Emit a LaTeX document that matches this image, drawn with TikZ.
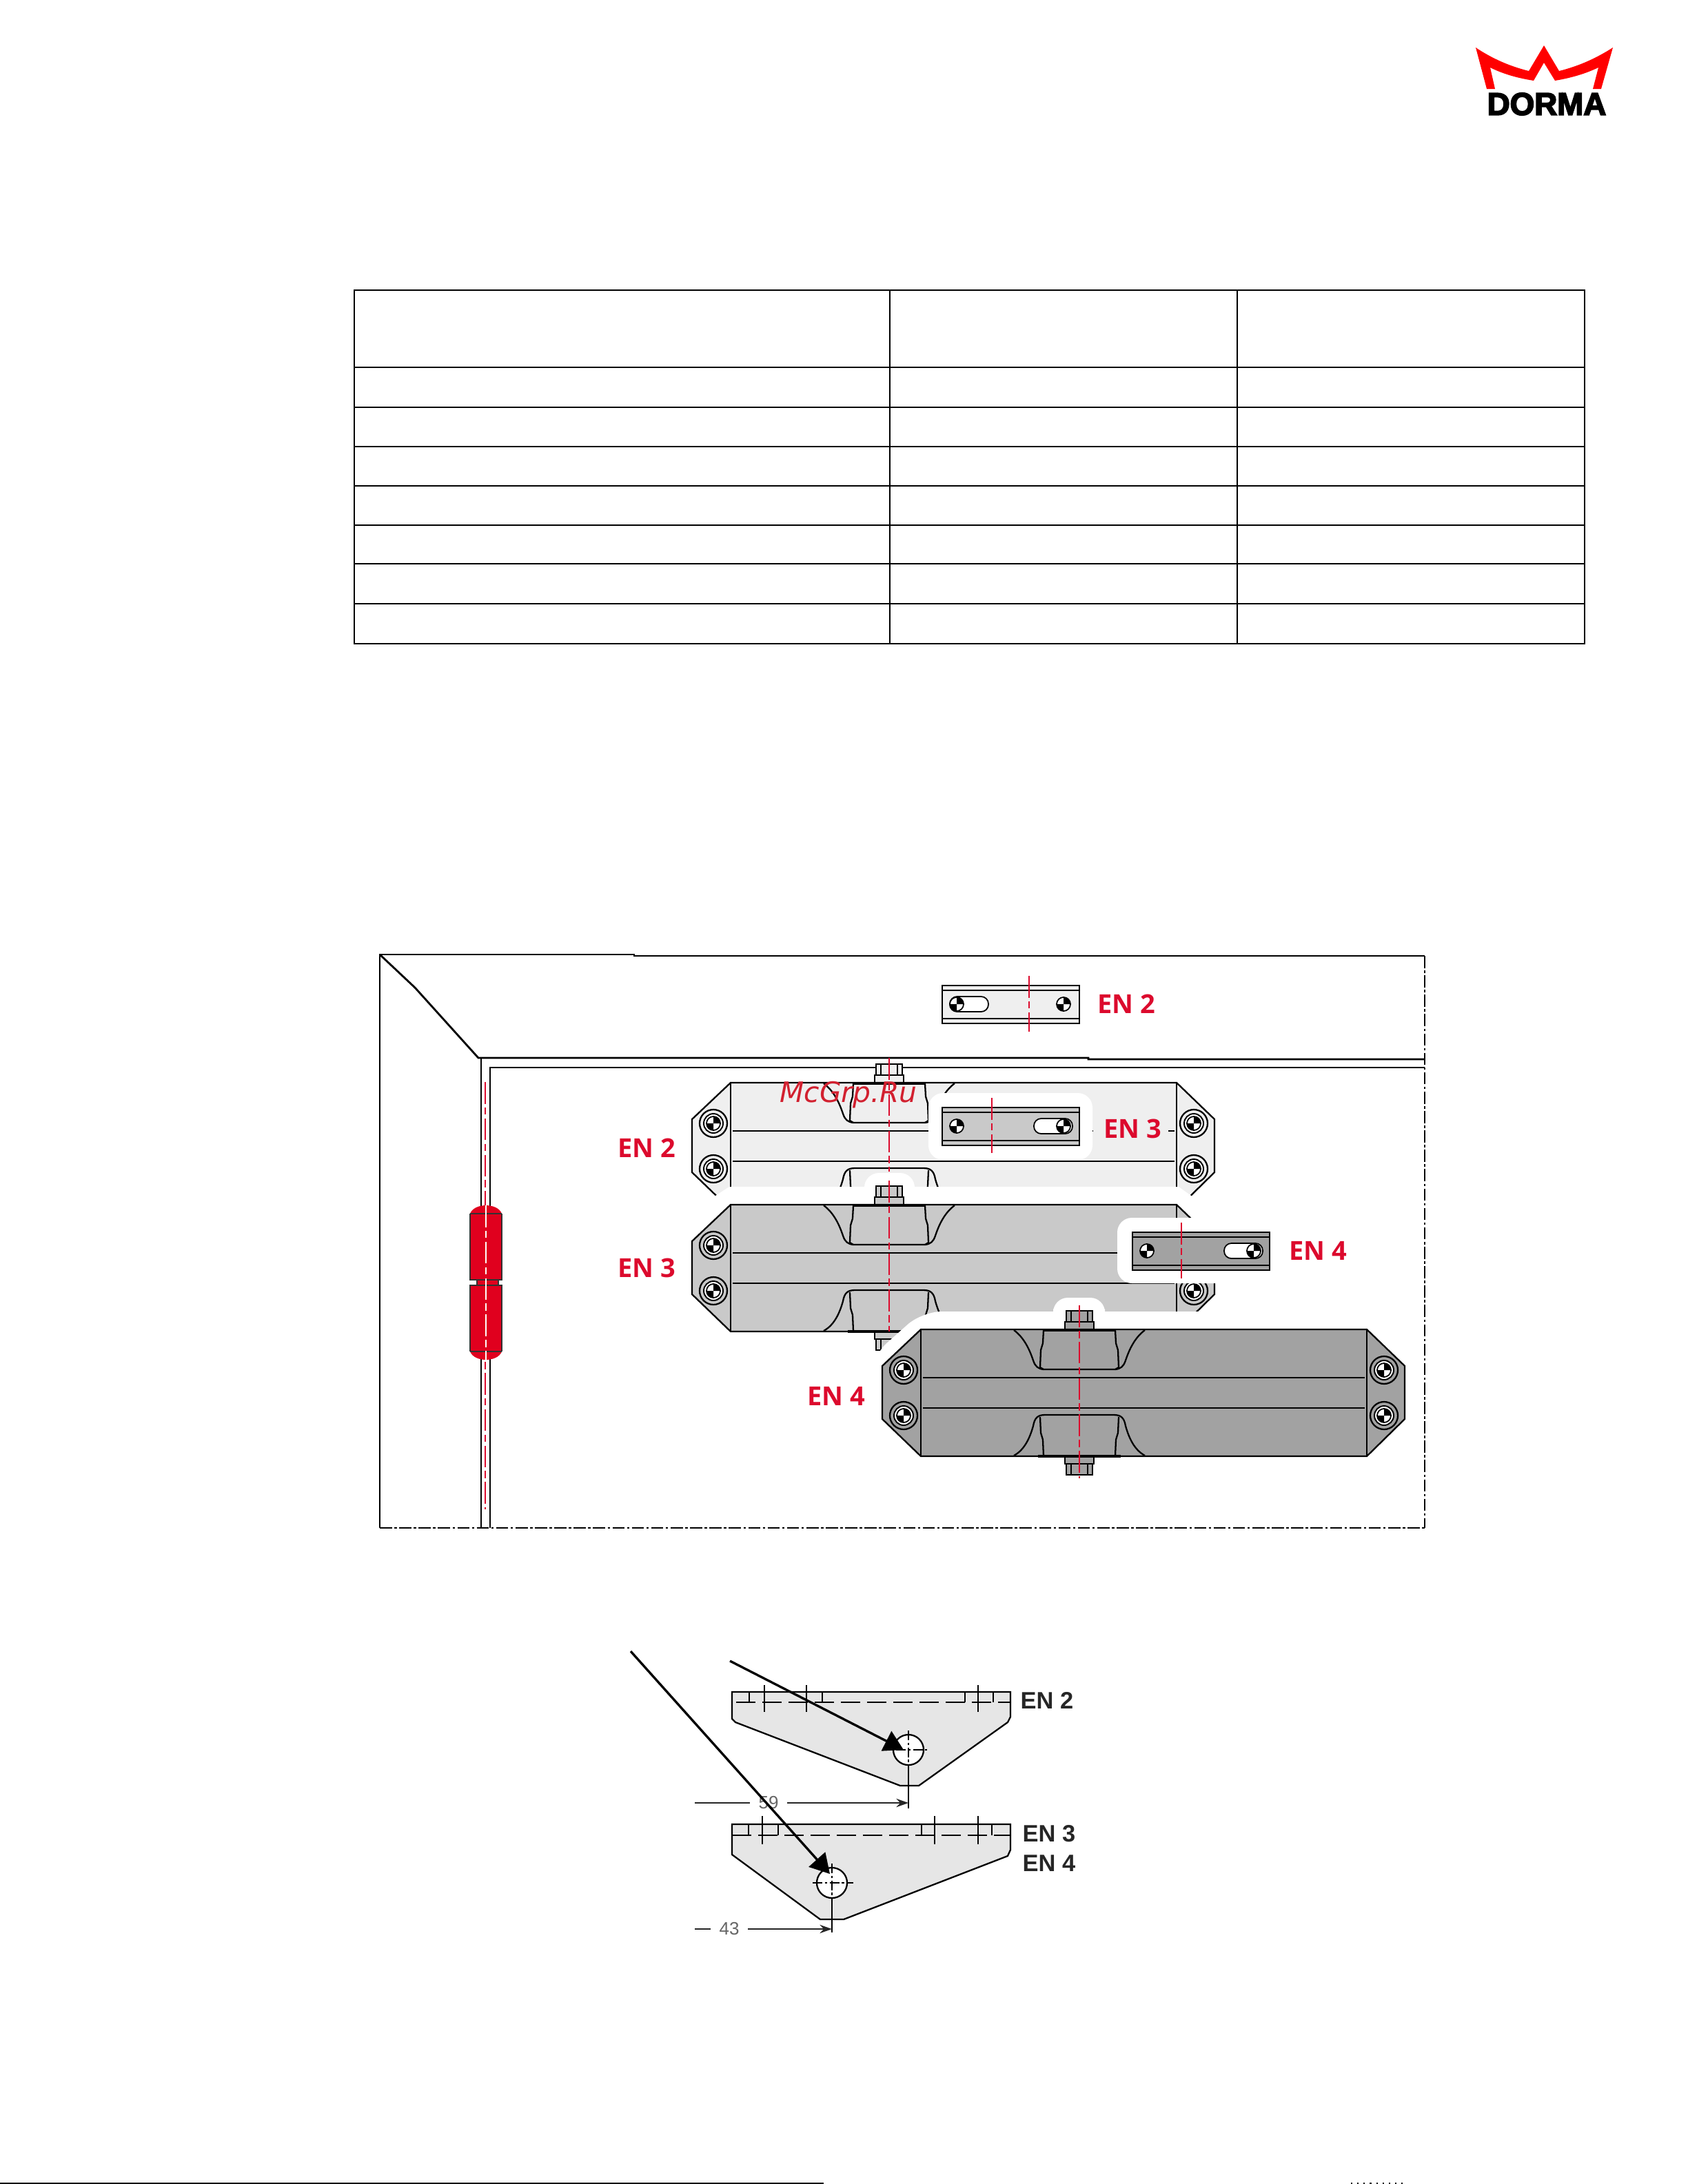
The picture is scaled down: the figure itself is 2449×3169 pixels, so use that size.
\documentclass[tikz,border=0pt]{standalone}
\usepackage{fontspec}
\usepackage{xcolor}
\usetikzlibrary{arrows.meta, positioning}
\newfontfamily\labelfont{Open Sans}
\newfontfamily\markfont{DejaVu Sans}
\newfontfamily\dimfont{Liberation Sans}
\newfontfamily\logofont[BoldFeatures={FakeBold=4}]{Liberation Sans}
\definecolor{enred}{HTML}{DC0A2D}
\definecolor{hingered}{HTML}{E0001E}
\definecolor{markred}{HTML}{D2202F}
\definecolor{logored}{HTML}{FF0000}
\definecolor{engreya}{HTML}{EFEFEF}
\definecolor{engreyb}{HTML}{C9C9C9}
\definecolor{engreyc}{HTML}{A2A2A2}
\definecolor{bracketgrey}{HTML}{E6E6E6}
\tikzset{
  gridline/.style={line width=.8pt},
  wall/.style={line width=.8pt},
  edge/.style={line width=.65pt},
  axisline/.style={enred, line width=.7pt, dash pattern=on 9pt off 1.5pt on 3pt off 1.5pt},
  hingeaxis/.style={white, line width=.7pt, dash pattern=on 9pt off 1.5pt on 3pt off 1.5pt},
  cutline/.style={line width=.6pt, dash pattern=on 5pt off 1pt on 1pt off 1pt},
  redlabel/.style={enred, font=\labelfont\fontsize{10.8}{13}\selectfont\bfseries, inner sep=0pt},
  blacklabel/.style={black!85, font=\dimfont\fontsize{9.8}{11}\selectfont\bfseries, inner sep=0pt},
  dimlabel/.style={black!60, font=\dimfont\fontsize{7.4}{9}\selectfont, inner sep=3.4pt},
  dimline/.style={line width=.65pt, black!85},
  pointer/.style={line width=.95pt, -{Triangle[length=8pt,width=9pt]}},
  halo/.style={white, rounded corners=6pt},
  pics/crossdisc/.style={code={
    \draw[fill=white, line width=.5pt] (0,0) circle (10);
    \fill (0,0) -- (10,0) arc[start angle=0, end angle=-90, radius=10] -- cycle;
    \fill (0,0) -- (-10,0) arc[start angle=180, end angle=90, radius=10] -- cycle;
  }},
  pics/screwhead/.style={code={
    \draw[edge] (0,0) circle (20);
    \draw[line width=.55pt, fill=white] (0,0) circle (14);
    \pic {crossdisc};
  }},
  pics/closer/.style={code={
    \fill[#1] (0,0) -- (647,0) -- (702,53) -- (702,130) -- (647,184) -- (0,184) -- (-56,130) -- (-56,53) -- cycle;
    \draw[edge, fill=#1] (211,0) rectangle (249,-27);
    \draw[edge, fill=#1] (209,0) rectangle (251,-11);
    \draw[line width=.4pt] (218,-11) -- (218,-27) (242,-11) -- (242,-27);
    \draw[edge, fill=#1] (209,184) rectangle (251,195);
    \draw[edge, fill=#1] (211,195) rectangle (249,211);
    \draw[line width=.4pt] (218,195) -- (218,211) (242,195) -- (242,211);
    \draw[edge] (-56,130) -- (-56,53) -- (0,0) -- (647,0) -- (702,53) -- (702,130) -- (647,184) -- (0,184) -- cycle;
    \draw[edge] (0,0) -- (0,184) (647,0) -- (647,184);
    \draw[edge] (3,70) -- (644,70) (3,114) -- (644,114);
    \draw[line width=1.1pt] (178,1) -- (282,1) (170,184) -- (290,184);
    \draw[edge] (135,1) .. controls (150,12) and (158,30) .. (163,45) .. controls (166,54) and (170,57) .. (178,58) -- (282,58) .. controls (290,57) and (294,54) .. (297,45) .. controls (302,30) and (310,12) .. (325,1);
    \draw[edge] (178,1) -- (177,20) -- (174,30) -- (173,55) -- (178,58);
    \draw[edge] (282,1) -- (283,20) -- (286,30) -- (287,55) -- (282,58);
    \draw[edge] (135,183) .. controls (150,175) and (158,158) .. (163,140) .. controls (165,128) and (170,124) .. (180,124) -- (280,124) .. controls (290,124) and (295,128) .. (297,140) .. controls (302,158) and (310,175) .. (325,183);
    \draw[edge] (173,127) -- (174,150) -- (177,160) -- (178,184);
    \draw[edge] (287,127) -- (286,150) -- (283,160) -- (282,184);
    \foreach \sx in {-25,672} {
      \foreach \sy in {59,125} {
        \pic at (\sx,\sy) {screwhead};
      }
    }
  }},
  pics/mountplate/.style 2 args={code={
    \draw[edge, fill=#1] (0,0) rectangle (199,55);
    \draw[edge] (0,7) -- (199,7) (0,48) -- (199,48);
    \draw[line width=.5pt, fill=white, rounded corners=3pt] (#2,16) rectangle ++(56,22);
    \pic at (21,27) {crossdisc};
    \pic at (176,27) {crossdisc};
  }},
}
\begin{document}
\begin{tikzpicture}[x=0.01cm, y=-0.01cm]
\useasboundingbox (0,0) rectangle (2449,3169);

\fill[logored] (2141,69) .. controls (2165,85) and (2190,96) .. (2218,103) -- (2240,66) -- (2262,103) .. controls (2290,96) and (2315,85) .. (2340,69) -- (2323,129) -- (2311,129) -- (2319,98) .. controls (2300,107) and (2280,113) .. (2256,117) -- (2240,91) -- (2225,117) .. controls (2200,113) and (2180,107) .. (2162,98) -- (2169,129) -- (2157,129) -- cycle;
\node[inner sep=0pt, font=\logofont\fontsize{13}{15}\selectfont\bfseries] (logotext) at (2244,151) {DORMA};

\draw[gridline] (514,421) rectangle (2299,934);
\foreach \rowy in {533,591,648,705,762,818,876} {
  \draw[gridline] (514,\rowy) -- (2299,\rowy);
}
\foreach \colx in {1291,1795} {
  \draw[gridline] (\colx,421) -- (\colx,934);
}

\draw[wall] (551,2217) -- (551,1385) -- (920,1385) -- (920,1387) -- (2067,1387);
\draw[wall] (551,1385) -- (602,1433) -- (694,1535) -- (1579,1535) -- (1579,1537) -- (2067,1537);
\draw[wall] (2067,1549) -- (711,1549) -- (711,2217);
\draw[wall] (698,1535) -- (698,2217);
\draw[cutline] (2067,1387) -- (2067,2217);
\draw[cutline] (551,2217) -- (2067,2217);
\draw[axisline] (704,1570) -- (704,2190);

\fill[hingered] (682,1761) .. controls (685,1753) and (695,1749) .. (705,1749) .. controls (715,1749) and (725,1753) .. (728,1761) -- (728,1857) -- (723,1857) -- (723,1865) -- (728,1865) -- (728,1961) .. controls (725,1969) and (715,1973) .. (705,1973) .. controls (695,1973) and (685,1969) .. (682,1961) -- (682,1865) -- (692,1865) -- (692,1857) -- (682,1857) -- cycle;
\draw[edge, black!80] (682,1761) -- (682,1857) -- (692,1857) -- (692,1865) -- (682,1865) -- (682,1961) (728,1761) -- (728,1857) -- (723,1857) -- (723,1865) -- (728,1865) -- (728,1961);
\draw[edge, black!80] (682,1761) -- (728,1761) (682,1961) -- (728,1961) (692,1857) -- (723,1857) (692,1865) -- (723,1865);
\draw[hingeaxis] (705,1749) -- (705,1973);

\pic at (1060,1571) {closer=engreya};
\fill[engreya] (1586,1625) rectangle (1695,1660);
\fill[halo] (1347,1586) rectangle (1585,1683);
\draw[axisline] (1290,1535) -- (1290,1700);
\pic at (1367,1607) {mountplate={engreyb}{133}};
\draw[axisline] (1439,1593) -- (1439,1673);

\fill[white] (1035,1737) -- (1058,1722) -- (1710,1722) -- (1731,1737) -- (1775,1765) -- (995,1765) -- cycle;
\fill[halo] (1254,1745) -- (1254,1702) -- (1327,1702) -- (1327,1745) -- cycle;
\pic at (1060,1748) {closer=engreyb};
\draw[axisline] (1290,1713) -- (1290,1932);

\fill[halo] (1621,1767) rectangle (1800,1862);
\pic at (1643,1788) {mountplate={engreyc}{133}};
\draw[axisline] (1714,1774) -- (1714,1855);

\fill[white, rounded corners=8pt] (1265,1968) -- (1338,1903) -- (2060,1903) -- (2060,2160) -- (1265,2160) -- cycle;
\fill[halo] (1528,1920) -- (1528,1883) -- (1603,1883) -- (1603,1920) -- cycle;
\pic at (1336,1929) {closer=engreyc};
\draw[axisline] (1566,1894) -- (1566,2145);

\pic at (1367,1430) {mountplate={engreya}{11}};
\draw[axisline] (1493,1416) -- (1493,1497);

\node[redlabel] (toplabel) at (1634,1457) {EN 2};
\node[redlabel] (plateenc) at (1643,1638) {EN 3};
\node[redlabel] (plateend) at (1912,1815) {EN 4};
\node[redlabel] (closerb) at (938,1666) {EN 2};
\node[redlabel] (closerc) at (938,1840) {EN 3};
\node[redlabel] (closerd) at (1213,2026) {EN 4};
\node[markred, inner sep=0pt, font=\markfont\fontsize{11.6}{14}\selectfont\itshape] (watermark) at (1231,1589) {McGrp.Ru};

\draw[edge, fill=bracketgrey] (1062,2455) -- (1466,2455) -- (1466,2491) -- (1462,2499) -- (1333,2591) -- (1306,2591) -- (1067,2499) -- (1062,2494) -- cycle;
\draw[edge, dash pattern=on 8pt off 2.8pt] (1068,2470) -- (1466,2470);
\foreach \tx in {1109,1170,1419} {
  \draw[edge] (\tx,2445) -- (\tx,2484);
}
\foreach \tx in {1087,1193,1400,1441} {
  \draw[line width=.5pt] (\tx,2455) -- (\tx,2470);
}
\coordinate (holeb) at (1318,2539);
\draw[edge, fill=white] (holeb) circle (22);
\draw[line width=.4pt, dash pattern=on 4pt off 1pt on 1pt off 1pt] (1318,2511) -- (1318,2561) (1300,2539) -- (1345,2539);
\draw[line width=.5pt] (1318,2561) -- (1318,2624);

\draw[edge, fill=bracketgrey] (1062,2647) -- (1466,2647) -- (1466,2684) -- (1462,2693) -- (1224,2785) -- (1190,2785) -- (1062,2691) -- cycle;
\draw[edge, dash pattern=on 8pt off 2.8pt] (1062,2663) -- (1466,2663);
\foreach \tx in {1106,1356,1419} {
  \draw[edge] (\tx,2635) -- (\tx,2676);
}
\foreach \tx in {1086,1129,1337,1439} {
  \draw[line width=.5pt] (\tx,2647) -- (\tx,2663);
}
\coordinate (holec) at (1207,2732);
\draw[edge, fill=white] (holec) circle (22);
\draw[line width=.4pt, dash pattern=on 4pt off 1pt on 1pt off 1pt] (1207,2704) -- (1207,2754) (1179,2732) -- (1238,2732);
\draw[line width=.5pt] (1207,2754) -- (1207,2804);

\node[blacklabel] (bracketb) at (1519,2467) {EN 2};
\node[blacklabel] (bracketc) at (1522,2661) {EN 3};
\node[blacklabel] (bracketd) at (1522,2704) {EN 4};

\coordinate (dimbstart) at (1008,2616);
\node[dimlabel] (dimb) at (1115,2616) {59};
\coordinate (dimbend) at (1318,2616);
\draw[dimline] (dimbstart) -- (dimb);
\draw[dimline, -{Stealth[length=5pt,width=3.5pt]}] (dimb) -- (dimbend);
\coordinate (dimcstart) at (1008,2799);
\node[dimlabel] (dimc) at (1058,2799) {43};
\coordinate (dimcend) at (1207,2799);
\draw[dimline] (dimcstart) -- (dimc);
\draw[dimline, -{Stealth[length=5pt,width=3.5pt]}] (dimc) -- (dimcend);

\coordinate (ptrbstart) at (1059,2410);
\coordinate (ptrbtip) at (1311,2539);
\coordinate (ptrcstart) at (915,2396);
\coordinate (ptrctip) at (1204,2719);
\draw[pointer] (ptrbstart) -- (ptrbtip);
\draw[pointer] (ptrcstart) -- (ptrctip);

\draw[line width=.6pt] (0,3168) -- (1195,3168);
\draw[line width=.6pt, dotted] (1960,3168) -- (2038,3168);
\end{tikzpicture}
\end{document}
